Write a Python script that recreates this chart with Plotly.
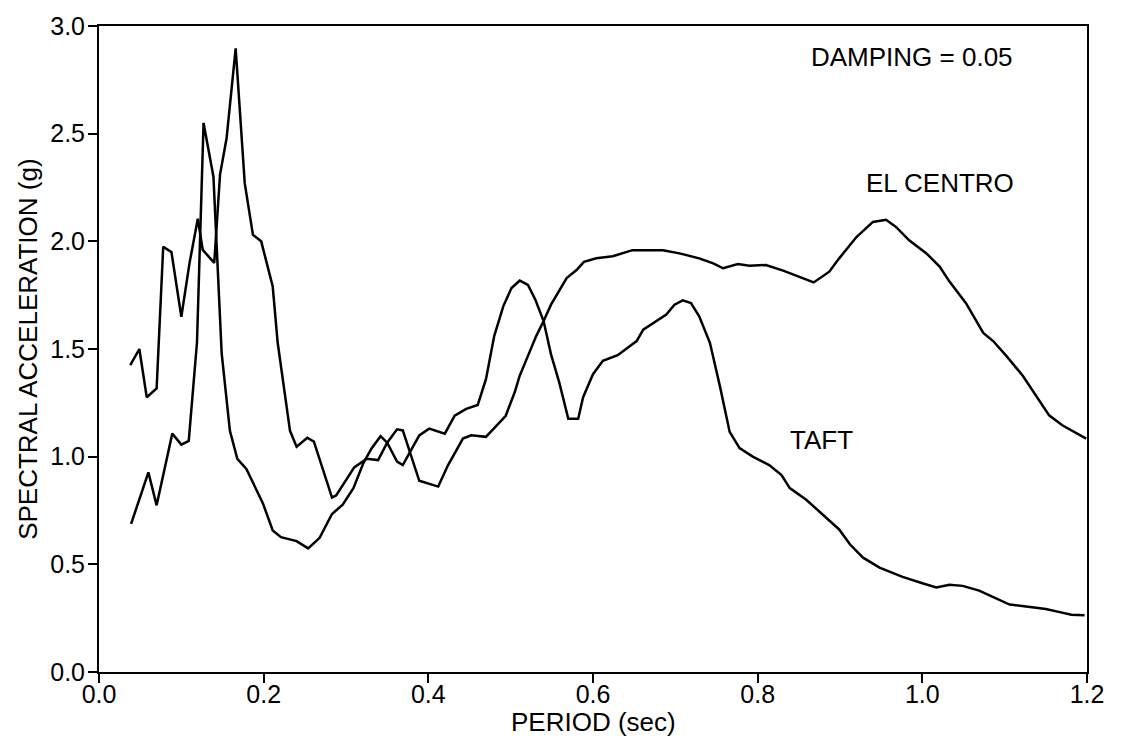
import plotly.graph_objects as go

# EL CENTRO record (5% damping)
elcentro_period = [0.038, 0.049, 0.058, 0.070, 0.078, 0.088, 0.100, 0.110, 0.120, 0.126, 0.140,
                   0.147, 0.155, 0.166, 0.177, 0.187, 0.197, 0.211, 0.217, 0.232, 0.240, 0.253,
                   0.261, 0.283, 0.288, 0.310, 0.325, 0.339, 0.350, 0.362, 0.369, 0.389, 0.412,
                   0.424, 0.442, 0.452, 0.470, 0.483, 0.494, 0.505, 0.511, 0.521, 0.531, 0.540,
                   0.549, 0.568, 0.580, 0.589, 0.604, 0.624, 0.648, 0.685, 0.705, 0.729, 0.746,
                   0.758, 0.776, 0.790, 0.810, 0.831, 0.849, 0.868, 0.887, 0.899, 0.920, 0.940,
                   0.956, 0.968, 0.984, 1.005, 1.021, 1.033, 1.053, 1.074, 1.086, 1.102, 1.122,
                   1.138, 1.154, 1.170, 1.183, 1.199]
elcentro_sa = [1.425, 1.50, 1.276, 1.317, 1.975, 1.95, 1.65, 1.90, 2.105, 1.96, 1.90,
               2.31, 2.48, 2.896, 2.27, 2.03, 2.0, 1.79, 1.53, 1.12, 1.046, 1.088,
               1.07, 0.81, 0.82, 0.95, 0.99, 0.984, 1.065, 1.127, 1.122, 0.888, 0.861,
               0.961, 1.084, 1.099, 1.092, 1.146, 1.19, 1.30, 1.376, 1.468, 1.56, 1.63,
               1.706, 1.829, 1.867, 1.905, 1.921, 1.931, 1.959, 1.959, 1.944, 1.921, 1.898,
               1.875, 1.895, 1.887, 1.89, 1.864, 1.836, 1.809, 1.859, 1.921, 2.02, 2.09,
               2.10, 2.067, 2.005, 1.944, 1.883, 1.813, 1.713, 1.575, 1.537, 1.468, 1.376,
               1.283, 1.192, 1.146, 1.118, 1.084]

# TAFT record (5% damping)
taft_period = [0.039, 0.060, 0.070, 0.089, 0.100, 0.109, 0.119, 0.127, 0.139, 0.149, 0.159,
               0.168, 0.179, 0.199, 0.211, 0.221, 0.240, 0.254, 0.268, 0.283, 0.296, 0.309,
               0.321, 0.331, 0.342, 0.350, 0.362, 0.369, 0.379, 0.389, 0.401, 0.420, 0.432,
               0.446, 0.460, 0.470, 0.480, 0.491, 0.501, 0.511, 0.521, 0.530, 0.540, 0.549,
               0.559, 0.570, 0.582, 0.588, 0.600, 0.612, 0.630, 0.640, 0.653, 0.661, 0.673,
               0.689, 0.699, 0.709, 0.719, 0.729, 0.742, 0.754, 0.766, 0.778, 0.794, 0.814,
               0.829, 0.839, 0.859, 0.879, 0.899, 0.912, 0.928, 0.948, 0.964, 0.976, 1.001,
               1.017, 1.033, 1.049, 1.069, 1.086, 1.106, 1.126, 1.150, 1.167, 1.181, 1.197]
taft_sa = [0.688, 0.927, 0.774, 1.107, 1.056, 1.073, 1.53, 2.55, 2.30, 1.48, 1.12,
           0.99, 0.943, 0.784, 0.657, 0.626, 0.608, 0.574, 0.623, 0.734, 0.777, 0.854,
           0.969, 1.038, 1.095, 1.065, 0.977, 0.961, 1.03, 1.099, 1.13, 1.107, 1.19,
           1.222, 1.24, 1.36, 1.56, 1.698, 1.783, 1.818, 1.798, 1.729, 1.63, 1.475,
           1.345, 1.176, 1.176, 1.276, 1.383, 1.445, 1.471, 1.498, 1.537, 1.59, 1.621,
           1.66, 1.706, 1.726, 1.713, 1.652, 1.529, 1.33, 1.115, 1.04, 1.0, 0.961,
           0.915, 0.854, 0.80, 0.731, 0.662, 0.593, 0.531, 0.485, 0.462, 0.442, 0.411,
           0.393, 0.405, 0.40, 0.378, 0.347, 0.313, 0.304, 0.293, 0.278, 0.266, 0.263]

x_ticks = [0.0, 0.2, 0.4, 0.6, 0.8, 1.0, 1.2]
x_tick_text = ["0.0", "0.2", "0.4", "0.6", "0.8", "1.0", "1.2"]
y_ticks = [0.0, 0.5, 1.0, 1.5, 2.0, 2.5, 3.0]
y_tick_text = ["0.0", "0.5", "1.0", "1.5", "2.0", "2.5", "3.0"]

FONT = "Liberation Sans, Arial, Helvetica, sans-serif"

fig = go.Figure()
fig.add_trace(go.Scatter(x=elcentro_period, y=elcentro_sa, mode="lines", name="EL CENTRO",
                         line=dict(color="black", width=2.5)))
fig.add_trace(go.Scatter(x=taft_period, y=taft_sa, mode="lines", name="TAFT",
                         line=dict(color="black", width=2.5)))

fig.update_layout(
    width=1123, height=745,
    margin=dict(l=99, r=36, t=21, b=73),
    paper_bgcolor="white", plot_bgcolor="white",
    showlegend=False,
    font=dict(family=FONT, size=26, color="black"),
    xaxis=dict(range=[0, 1.2], tickvals=x_ticks, ticktext=x_tick_text,
               ticks="outside", ticklen=9, tickwidth=1.5, tickcolor="black",
               ticklabelstandoff=-10,
               showline=True, linecolor="black", linewidth=2, mirror=True,
               showgrid=False, zeroline=False, tickfont=dict(size=25)),
    yaxis=dict(range=[0, 3.0], tickvals=y_ticks, ticktext=y_tick_text,
               ticks="outside", ticklen=9, tickwidth=1.5, tickcolor="black",
               ticklabelstandoff=-2,
               showline=True, linecolor="black", linewidth=2, mirror=True,
               showgrid=False, zeroline=False, tickfont=dict(size=25)),
    annotations=[
        dict(text="PERIOD (sec)", xref="paper", yref="paper", x=0.5, y=-0.077,
             xanchor="center", yanchor="middle", showarrow=False, font=dict(size=26)),
        dict(text="SPECTRAL ACCELERATION (g)", xref="paper", yref="paper", x=-0.072, y=0.5,
             xanchor="center", yanchor="middle", textangle=-90, showarrow=False,
             font=dict(size=26)),
        dict(text="DAMPING = 0.05", x=0.988, y=2.856, xref="x", yref="y",
             showarrow=False, font=dict(size=26)),
        dict(text="EL CENTRO", x=1.022, y=2.271, xref="x", yref="y",
             showarrow=False, font=dict(size=26)),
        dict(text="TAFT", x=0.878, y=1.078, xref="x", yref="y",
             showarrow=False, font=dict(size=26)),
    ],
)

fig.write_html("out.html")
